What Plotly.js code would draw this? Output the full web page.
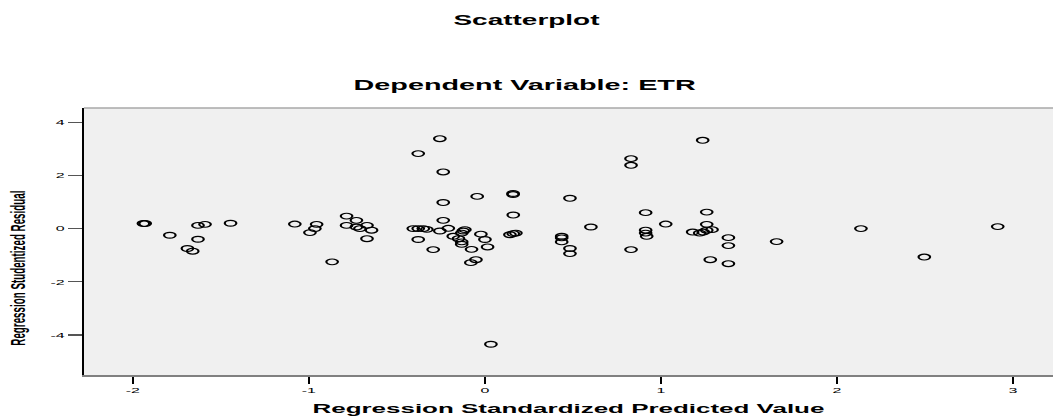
<!DOCTYPE html>
<html>
<head>
<meta charset="utf-8">
<script src="https://cdn.plot.ly/plotly-3.0.1.min.js"></script>
<style>
  html, body { margin: 0; padding: 0; background: #ffffff; overflow: hidden; }
  #chart { width: 527px; height: 416px; transform: scaleX(1.99810); transform-origin: 0 0; }
</style>
</head>
<body>
<div id="chart"></div>
<script>
// Regression Standardized Predicted Value (x) and Regression Studentized Residual (y)
const predicted = [
  -1.94, -1.93, -1.79, -1.63, -1.59, -1.63, -1.69, -1.66, -1.445, -1.08,
  -0.956, -0.966, -0.994, -0.786, -0.786, -0.73, -0.73, -0.71, -0.67, -0.644,
  -0.67, -0.868,
  -0.256, -0.379, -0.237, -0.237, -0.044, 0.16, 0.16, 0.483, 0.83, 0.83,
  1.237, -0.237, 0.161, 0.913, 1.26, -0.407, -0.379, -0.35, -0.33, -0.379,
  -0.294, -0.256, -0.208, -0.18, -0.132, -0.114, -0.123, -0.132, -0.132, -0.15,
  -0.023, 0.0, -0.076, 0.015, -0.051, -0.08, 0.142, 0.161, 0.176, 0.436,
  0.436, 0.436, 0.483, 0.483, 0.602, 0.83, 0.913, 0.913, 0.919, 1.027,
  1.18, 1.22, 1.24, 1.26, 1.29, 1.26, 1.28, 1.383, 1.383, 1.383,
  1.657, 2.136, 2.496, 2.913, 0.034
];
const residual = [
  0.19, 0.19, -0.25, 0.12, 0.16, -0.40, -0.75, -0.85, 0.20, 0.17,
  0.16, 0.0, -0.15, 0.47, 0.12, 0.31, 0.06, 0.0, 0.12, -0.06,
  -0.38, -1.25,
  3.38, 2.82, 2.13, 0.98, 1.21, 1.32, 1.28, 1.14, 2.63, 2.38,
  3.32, 0.31, 0.51, 0.60, 0.62, 0.0, 0.0, 0.0, -0.03, -0.41,
  -0.79, -0.09, 0.01, -0.29, -0.17, -0.04, -0.09, -0.50, -0.59, -0.38,
  -0.21, -0.41, -0.78, -0.69, -1.17, -1.28, -0.23, -0.19, -0.17, -0.29,
  -0.35, -0.50, -0.75, -0.94, 0.06, -0.79, -0.06, -0.17, -0.29, 0.17,
  -0.13, -0.17, -0.13, -0.06, -0.04, 0.16, -1.17, -0.34, -0.64, -1.32,
  -0.49, 0.0, -1.07, 0.075, -4.35
];
const xTicks = [-2, -1, 0, 1, 2, 3];
const yTicks = [4, 2, 0, -2, -4];

const FONT = 'Liberation Sans, Arial, Helvetica, sans-serif';

const trace = {
  type: 'scatter',
  mode: 'markers',
  x: predicted,
  y: residual,
  marker: {
    symbol: 'circle-open',
    size: 5.8,
    color: '#000000',
    line: { width: 1.1, color: '#000000' }
  },
  hoverinfo: 'x+y',
  showlegend: false
};

const layout = {
  width: 527,
  height: 416,
  margin: { l: 42, r: 0, t: 108, b: 41 },
  paper_bgcolor: '#ffffff',
  plot_bgcolor: '#f0f0f0',
  font: { family: FONT, color: '#000000' },
  title: {
    text: 'Scatterplot',
    font: { family: FONT, size: 14, weight: 'bold', color: '#000000' },
    x: 0.5, xref: 'container', xanchor: 'center',
    y: 0.952, yref: 'container', yanchor: 'middle'
  },
  xaxis: {
    range: [-2.278, 3.227],
    tickmode: 'array',
    tickvals: xTicks,
    ticktext: xTicks.map(String),
    ticks: 'outside',
    ticklen: 7,
    tickwidth: 1,
    tickcolor: '#000000',
    tickfont: { family: FONT, size: 8, color: '#000000' },
    showgrid: false,
    zeroline: false,
    showline: true,
    linecolor: '#808080',
    linewidth: 1.5,
    title: {
      text: 'Regression Standardized Predicted Value',
      font: { family: FONT, size: 13, weight: 'bold', color: '#000000' },
      standoff: 13
    }
  },
  yaxis: {
    range: [-5.506, 4.535],
    tickmode: 'array',
    tickvals: yTicks,
    ticktext: yTicks.map(String),
    ticks: 'outside',
    ticklen: 7,
    tickwidth: 1.3,
    tickcolor: '#555555',
    tickfont: { family: FONT, size: 8, color: '#000000' },
    showgrid: false,
    zeroline: false,
    showline: true,
    linecolor: '#000000',
    linewidth: 1
  },
  shapes: [{
    type: 'line', xref: 'paper', yref: 'paper',
    x0: 0, x1: 1, y0: 1, y1: 1,
    line: { color: '#a8a8a8', width: 1.5 }
  }],
  annotations: [
    {
      text: 'Dependent Variable: ETR',
      xref: 'paper', yref: 'paper',
      x: 0.4557, y: 1.088, xanchor: 'center', yanchor: 'middle',
      showarrow: false,
      font: { family: FONT, size: 14.4, weight: 'bold', color: '#000000' }
    },
    {
      text: 'Regression Studentized Residual',
      xref: 'paper', yref: 'paper',
      x: -0.0687, y: 0.4007, xanchor: 'center', yanchor: 'middle',
      textangle: -90,
      showarrow: false,
      font: { family: FONT, size: 9.8, weight: 'bold', color: '#000000' }
    }
  ]
};

Plotly.newPlot('chart', [trace], layout, { displayModeBar: false, staticPlot: true });
</script>
</body>
</html>
